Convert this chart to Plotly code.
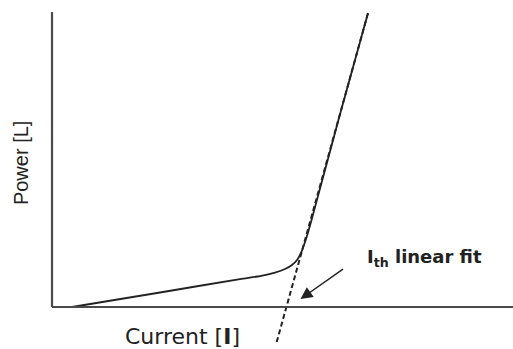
import plotly.graph_objects as go

# Light output (power) vs. drive current curve
curve_x = [0.434, 2.343, 4.078, 4.512, 4.837, 5.054, 5.206, 5.315, 5.401, 5.466, 5.531, 5.618, 6.213, 6.855]
curve_y = [0.0, 0.492, 0.949, 1.051, 1.169, 1.288, 1.424, 1.593, 1.831, 2.102, 2.407, 2.881, 6.339, 9.966]

# Linear fit of the lasing region (extrapolated below zero to find I_th)
fit_x = [4.874, 6.855]
fit_y = [-1.186, 9.966]

# Arrow target (I_th point on the current axis)
arrow_x, arrow_y = 5.39, 0.27

x_title = "Current [<b>I</b>]"
y_title = "Power [L]"
fit_label = "<b>I<sub>th</sub> linear fit</b>"

AX = "#4a4a4a"
INK = "#222222"

fig = go.Figure()
fig.add_trace(go.Scatter(x=curve_x, y=curve_y, mode="lines",
                         line=dict(color=INK, width=1.8, shape="spline", smoothing=0.6),
                         hoverinfo="skip", showlegend=False))
fig.add_trace(go.Scatter(x=fit_x, y=fit_y, mode="lines",
                         line=dict(color=INK, width=2, dash="5px,3px"),
                         hoverinfo="skip", showlegend=False))

fig.add_shape(type="line", x0=0, x1=0, y0=0, y1=10, xref="x", yref="y",
              line=dict(color=AX, width=2.2))
fig.add_shape(type="line", x0=0, x1=10, y0=0, y1=0, xref="x", yref="y",
              line=dict(color=AX, width=2.2))

fig.add_annotation(x=-0.0524, y=0.537, xref="paper", yref="paper", text=y_title, textangle=-90,
                   xanchor="center", yanchor="middle",
                   showarrow=False, font=dict(family="Liberation Sans", size=20, color=INK))
fig.add_annotation(x=0.2938, y=0.016, xref="paper", yref="paper", text=x_title,
                   xanchor="center", yanchor="middle",
                   showarrow=False, font=dict(family="DejaVu Sans", size=22, color=INK))
fig.add_annotation(x=6.79, y=1.66, xref="x", yref="y", text=fit_label, xanchor="left",
                   yanchor="middle",
                   showarrow=False, font=dict(family="DejaVu Sans", size=18, color=INK))
fig.add_annotation(x=arrow_x, y=arrow_y, xref="x", yref="y", text="", showarrow=True,
                   ax=44, ay=-31, arrowhead=2, arrowsize=1.6, arrowwidth=1.5,
                   arrowcolor=INK, standoff=0)

fig.update_layout(
    width=513, height=349,
    margin=dict(l=45, r=0, t=8, b=7),
    plot_bgcolor="white", paper_bgcolor="white",
    xaxis=dict(range=[-0.152, 10], showgrid=False, zeroline=False, showline=False,
               showticklabels=False, ticks=""),
    yaxis=dict(range=[-1.186, 10.136], showgrid=False, zeroline=False, showline=False,
               showticklabels=False, ticks=""),
)

fig.write_html("out.html")
